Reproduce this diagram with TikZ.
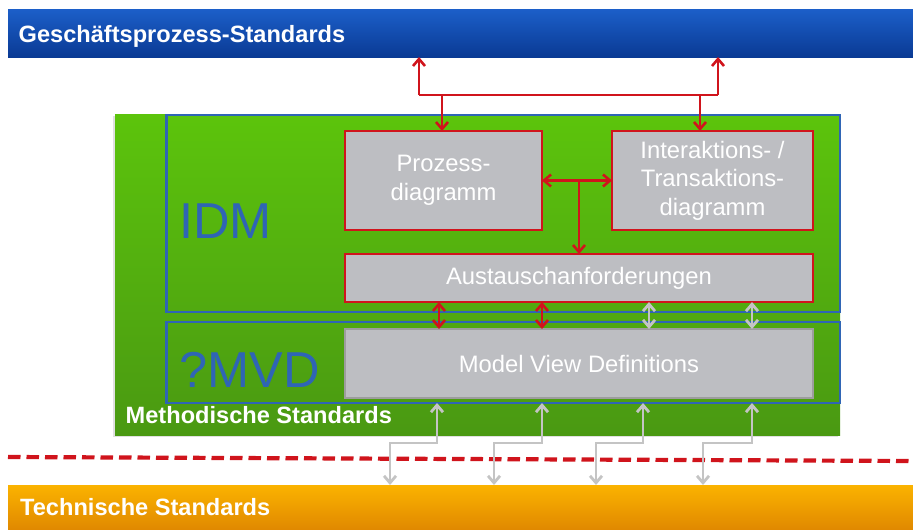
\documentclass[tikz,border=0pt]{standalone}
\usepackage{fontspec}
\setmainfont{Liberation Sans}
\usetikzlibrary{arrows.meta}
\definecolor{bartop}{HTML}{1C5FC9}
\definecolor{barbot}{HTML}{0A3A94}
\definecolor{greentop}{HTML}{5CC40C}
\definecolor{greenbot}{HTML}{4A9912}
\definecolor{orangetop}{HTML}{FBB300}
\definecolor{orangebot}{HTML}{E08800}
\definecolor{boxgrey}{HTML}{BDBEC2}
\definecolor{myred}{HTML}{D0141C}
\definecolor{frameblue}{HTML}{2F65B5}
\definecolor{arrgrey}{HTML}{C4C4C4}
\definecolor{mvdborder}{HTML}{9D9D9D}
\begin{document}
\begin{tikzpicture}[x=1pt,y=-1pt,
  box/.style={anchor=north west, inner sep=0pt, outer sep=0pt},
  boxtext/.style={text=white, font=\fontsize{23.8}{28.5}\selectfont, align=center},
  redbox/.style={box, draw=myred, line width=2.8pt, fill=boxgrey, boxtext},
  frame/.style={box, draw=frameblue, line width=2.6pt},
  titletext/.style={anchor=base west, inner sep=0pt, text=white, font=\fontsize{23.6}{28}\selectfont\bfseries},
  bigtext/.style={anchor=base west, inner sep=0pt, text=frameblue, font=\fontsize{50.5}{60}\selectfont},
  tip/.style={>={Straight Barb[length=7pt,width=12pt]}},
  redarr/.style={tip, draw=myred, line width=2.6pt},
  greyarr/.style={tip, draw=arrgrey, line width=2.8pt},
  sep line/.style={draw=myred, line width=4.2pt, dash pattern=on 12.5pt off 6pt}
]
\useasboundingbox (0,0) rectangle (913,530);

% bars
\node[box, top color=bartop, bottom color=barbot, minimum width=905pt, minimum height=48pt] (gps) at (8,9) {};
\node[titletext] (gpst) at (18.5,42) {Geschäftsprozess-Standards};
\node[box, top color=orangetop, bottom color=orangebot, minimum width=905pt, minimum height=45pt] (tech) at (8,485) {};
\node[titletext] (techt) at (20,515) {Technische Standards};

% green method box
\node[box, fill=black!12, minimum width=725pt, minimum height=321pt] (methsh) at (113,116) {};
\node[box, top color=greentop, bottom color=greenbot, minimum width=725pt, minimum height=321pt] (meth) at (115,114) {};
\node[frame, minimum width=673.5pt, minimum height=197pt] (idmf) at (166.5,115) {};
\node[frame, minimum width=673.5pt, minimum height=81pt] (mvdf) at (166.5,322) {};
\node[titletext] (metht) at (125.5,423) {Methodische Standards};
\node[bigtext] (idm) at (179,238) {IDM};
\node[bigtext] (mvdl) at (179,387) {?MVD};

% grey boxes
\node[redbox, minimum width=197pt, minimum height=99pt] (pd) at (345,131) {Prozess-\\diagramm};
\node[redbox, minimum width=201pt, minimum height=99pt] (it) at (612,131) {Interaktions- /\\Transaktions-\\diagramm};
\node[redbox, minimum width=468pt, minimum height=48pt] (aus) at (345,254) {Austauschanforderungen};
\node[box, draw=mvdborder, line width=1.8pt, fill=boxgrey, boxtext, minimum width=468pt, minimum height=69pt] (mvd) at (345,329) {Model View Definitions};

% top connectors
\coordinate (tl) at (419,95);
\coordinate (tr) at (718,95);
\coordinate (dl) at (442,95);
\coordinate (dr) at (700,95);
\draw[redarr] (tl) -- (tr);
\draw[redarr, ->] (tl) -- (tl |- gps.south);
\draw[redarr, ->] (tr) -- (tr |- gps.south);
\draw[redarr, ->] (dl) -- (dl |- pd.north);
\draw[redarr, ->] (dr) -- (dr |- it.north);

% between diagrams
\draw[redarr, <->] (pd.east) -- (it.west);
\coordinate (br) at (579,180.5);
\draw[redarr, ->] (br) -- (br |- aus.north);

% between Austausch and MVD
\coordinate (v1) at (439,0);
\coordinate (v2) at (542,0);
\coordinate (v3) at (649,0);
\coordinate (v4) at (752,0);
\draw[redarr, <->] (v1 |- aus.south) -- (v1 |- mvd.north);
\draw[redarr, <->] (v2 |- aus.south) -- (v2 |- mvd.north);
\draw[greyarr, <->] (v3 |- aus.south) -- (v3 |- mvd.north);
\draw[greyarr, <->] (v4 |- aus.south) -- (v4 |- mvd.north);

% separator
\coordinate (s0) at (8,457);
\coordinate (s1) at (913,461);
\draw[sep line] (s0) -- (s1);

% down to technical standards
\coordinate (b1) at (437,443);
\coordinate (b2) at (542,443);
\coordinate (b3) at (643,443);
\coordinate (b4) at (752,443);
\coordinate (e1) at (390,443);
\coordinate (e2) at (494,443);
\coordinate (e3) at (596,443);
\coordinate (e4) at (703,443);
\draw[greyarr, <->] (b1 |- mvdf.south) -- (b1) -- (e1) -- (e1 |- tech.north);
\draw[greyarr, <->] (b2 |- mvdf.south) -- (b2) -- (e2) -- (e2 |- tech.north);
\draw[greyarr, <->] (b3 |- mvdf.south) -- (b3) -- (e3) -- (e3 |- tech.north);
\draw[greyarr, <->] (b4 |- mvdf.south) -- (b4) -- (e4) -- (e4 |- tech.north);
\end{tikzpicture}
\end{document}
